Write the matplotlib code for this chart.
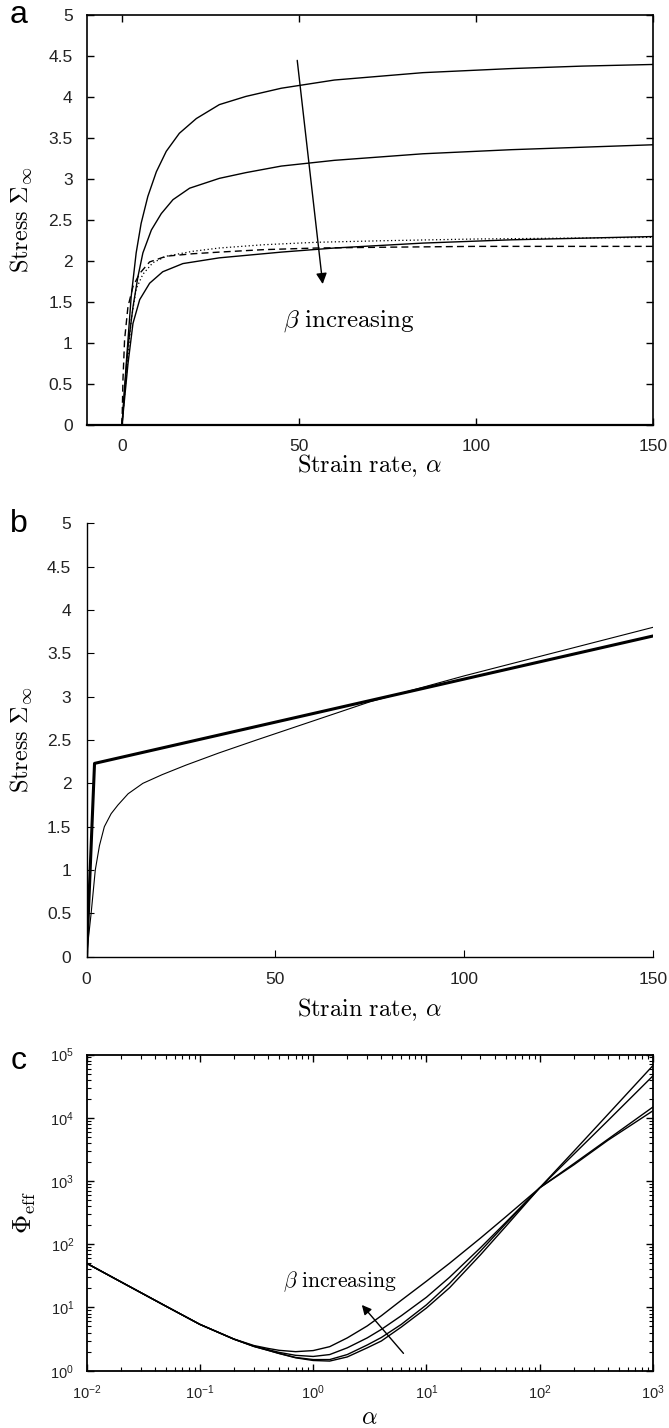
import numpy as np
import matplotlib
matplotlib.use('Agg')
import matplotlib.pyplot as plt
from matplotlib.ticker import FuncFormatter, LogLocator, NullFormatter

plt.rcParams['font.family'] = ['Liberation Sans', 'DejaVu Sans']
plt.rcParams['mathtext.fontset'] = 'cm'

# ---- panel a : stress vs strain rate, several beta ----
alpha_a1 = [0, 1.2, 2.6, 4, 5.4, 7.3, 9.7, 12.5, 16.2, 21, 27.5, 35, 45, 60, 85, 110, 130, 150]
sig_a1 = [0, 0.75, 1.57, 2.10, 2.46, 2.79, 3.09, 3.34, 3.56, 3.74, 3.91, 4.01, 4.11, 4.21, 4.3, 4.35, 4.38, 4.4]
alpha_a2 = [0, 1.7, 3.1, 4.5, 5.9, 8.3, 11.1, 14.4, 19.1, 27.5, 35, 45, 60, 85, 110, 130, 150]
sig_a2 = [0, 0.96, 1.44, 1.81, 2.10, 2.38, 2.58, 2.75, 2.89, 3.01, 3.08, 3.16, 3.23, 3.31, 3.36, 3.39, 3.42]
alpha_a3 = [0, 1.7, 3.1, 5.0, 7.8, 11.5, 17.2, 27.5, 35, 45, 60, 85, 110, 130, 150]
sig_a3 = [0, 0.75, 1.24, 1.53, 1.73, 1.87, 1.97, 2.04, 2.07, 2.11, 2.16, 2.22, 2.26, 2.28, 2.3]
alpha_dot = [0, 1.2, 2.6, 4.0, 5.9, 8.7, 12.5, 20, 27.5, 40, 55, 75, 100, 125, 150]
sig_dot = [0, 0.6, 1.28, 1.66, 1.84, 1.98, 2.06, 2.12, 2.16, 2.2, 2.23, 2.25, 2.27, 2.28, 2.29]
alpha_dash = [0, 0.27, 0.73, 1.67, 3.1, 5.0, 7.8, 12.5, 20, 27.5, 40, 55, 75, 100, 125, 150]
sig_dash = [0, 0.55, 1.04, 1.44, 1.69, 1.85, 1.99, 2.06, 2.09, 2.11, 2.14, 2.16, 2.17, 2.18, 2.18, 2.18]

# ---- panel b : model vs piecewise approximation ----
alpha_thick = [0, 2.1, 150]
sig_thick = [0, 2.23, 3.7]
alpha_thin = [0, 0.5, 1.2, 2.3, 3.4, 4.7, 6.5, 8.3, 11, 14.9, 20, 26.3, 35, 45, 60, 75, 100, 125, 150]
sig_thin = [0, 0.22, 0.5, 1.0, 1.28, 1.5, 1.65, 1.75, 1.88, 2.0, 2.1, 2.21, 2.35, 2.5, 2.72, 2.94, 3.24, 3.52, 3.8]

# ---- panel c : effective viscosity ----
alpha_c = [0.01, 0.02, 0.05, 0.1, 0.2, 0.3, 0.4, 0.5, 0.7, 1, 1.4, 2, 3, 4, 6, 10,
           16, 30, 50, 100, 200, 400, 1000]
phi_b1 = [50, 25.5, 10.5, 5.4, 3.15, 2.42, 2.1, 1.87, 1.6, 1.45, 1.42, 1.65, 2.3, 2.95, 4.9, 9.8,
          20.5, 68, 190, 780, 2950, 11300, 67000]
phi_b2 = [50, 25.5, 10.5, 5.4, 3.15, 2.42, 2.1, 1.88, 1.62, 1.5, 1.5, 1.8, 2.55, 3.35, 5.4, 11,
          24, 78, 210, 780, 2650, 9000, 46000]
phi_b3 = [50, 25.5, 10.5, 5.4, 3.15, 2.45, 2.15, 1.95, 1.75, 1.68, 1.8, 2.3, 3.3, 4.5, 7.4, 14.5,
          30, 88, 220, 780, 1880, 4570, 14800]
phi_b4 = [50, 25.5, 10.5, 5.4, 3.17, 2.5, 2.25, 2.1, 2.0, 2.08, 2.4, 3.3, 5.1, 7.4, 13, 26,
          50, 125, 270, 780, 1800, 4400, 12900]

W, H = 669, 1428
fig = plt.figure(figsize=(W / 100, H / 100), dpi=100)
left = 86.6 / W
width = (653 - 86.6) / W


def ax_rect(top_px, bot_px):
    return [left, 1 - bot_px / H, width, (bot_px - top_px) / H]


tick_col = '#222222'
lab_kw = dict(fontsize=17.5)
gfmt = FuncFormatter(lambda v, p: '%g' % v)
xlab = r'$\mathrm{Strain\ rate,}\,\alpha$'
ylab = r'$\mathrm{Stress}\ \Sigma_\infty$'
blab = r'$\beta\ \mathrm{increasing}$'

# panel a
ax1 = fig.add_axes(ax_rect(15.3, 425))
ax1.plot(alpha_a1, sig_a1, 'k-', lw=1.0)
ax1.plot(alpha_a2, sig_a2, 'k-', lw=1.0)
ax1.plot(alpha_a3, sig_a3, 'k-', lw=1.0)
ax1.plot(alpha_dot, sig_dot, color='k', lw=0.9, ls=(0, (1, 2)))
ax1.plot(alpha_dash, sig_dash, color='k', lw=1.0, ls=(0, (5, 3)))
ax1.set_xlim(-10, 150)
ax1.set_ylim(0, 5)
ax1.set_xticks([0, 50, 100, 150])
ax1.set_yticks(np.arange(0, 5.01, 0.5))
ax1.yaxis.set_major_formatter(gfmt)
ax1.tick_params(direction='in', top=True, right=True, length=5, width=1,
                labelsize=12.5, labelcolor=tick_col, pad=10)
for s in ax1.spines.values():
    s.set_linewidth(1.2)
ax1.spines['bottom'].set_linewidth(1.6)
ax1.set_xlabel(xlab, va='center', **lab_kw)
ax1.xaxis.set_label_coords(0.5, -0.1)
ax1.set_ylabel(ylab, va='center', **lab_kw)
ax1.yaxis.set_label_coords(-0.115, 0.5)
ax1.annotate('', xy=(56.7, 1.72), xytext=(49.5, 4.45),
             arrowprops=dict(arrowstyle='-|>', color='k', lw=1.0,
                             mutation_scale=16, shrinkA=0, shrinkB=0))
ax1.text(45.5, 1.2, blab, fontsize=18, ha='left', va='baseline')

# panel b
ax2 = fig.add_axes(ax_rect(523.3, 956.7))
ax2.plot(alpha_thin, sig_thin, 'k-', lw=0.8)
ax2.plot(alpha_thick, sig_thick, 'k-', lw=2.2)
ax2.set_xlim(0, 150)
ax2.set_ylim(0, 5)
ax2.set_xticks([0, 50, 100, 150])
ax2.set_yticks(np.arange(0, 5.01, 0.5))
ax2.yaxis.set_major_formatter(gfmt)
ax2.spines['top'].set_visible(False)
ax2.spines['right'].set_visible(False)
ax2.spines['left'].set_linewidth(1.0)
ax2.spines['bottom'].set_linewidth(1.0)
ax2.tick_params(direction='in', length=5, width=0.8,
                labelsize=12.5, labelcolor=tick_col, pad=11)
ax2.set_xlabel(xlab, va='center', **lab_kw)
ax2.xaxis.set_label_coords(0.5, -0.123)
ax2.set_ylabel(ylab, va='center', **lab_kw)
ax2.yaxis.set_label_coords(-0.115, 0.5)

# panel c
ax3 = fig.add_axes(ax_rect(1054.5, 1370.7))
for phi in (phi_b1, phi_b2, phi_b3, phi_b4):
    ax3.loglog(alpha_c, phi, 'k-', lw=1.0)
ax3.set_xlim(1e-2, 1e3)
ax3.set_ylim(1e0, 1e5)
ax3.xaxis.set_major_locator(LogLocator(base=10, numticks=10))
ax3.yaxis.set_major_locator(LogLocator(base=10, numticks=10))
ax3.xaxis.set_minor_locator(LogLocator(base=10, subs=np.arange(2, 10), numticks=20))
ax3.yaxis.set_minor_locator(LogLocator(base=10, subs=np.arange(2, 10), numticks=20))
ax3.xaxis.set_minor_formatter(NullFormatter())
ax3.yaxis.set_minor_formatter(NullFormatter())
ax3.tick_params(which='both', direction='in', top=True, right=True,
                labelsize=10.5, labelcolor=tick_col, pad=9)
ax3.tick_params(which='major', length=5, width=1)
ax3.tick_params(which='minor', length=3, width=0.8)
for s in ax3.spines.values():
    s.set_linewidth(1.3)
ax3.set_xlabel(r'$\alpha$', va='center', **lab_kw)
ax3.xaxis.set_label_coords(0.5, -0.15)
ax3.set_ylabel(r'$\Phi_{\mathrm{eff}}$', va='center', fontsize=19)
ax3.yaxis.set_label_coords(-0.11, 0.5)
ax3.annotate('', xy=(2.69, 10.96), xytext=(6.27, 1.88),
             arrowprops=dict(arrowstyle='-|>', color='k', lw=1.0,
                             mutation_scale=14, shrinkA=0, shrinkB=0))
ax3.text(0.546, 21.3, blab, fontsize=15.5, ha='left', va='baseline')

# panel letters
for lab, ypx in (('a', 15), ('b', 524), ('c', 1061)):
    fig.text(19 / W, 1 - ypx / H, lab, fontsize=23, ha='center', va='center')

fig.savefig('out.png', dpi=100)
